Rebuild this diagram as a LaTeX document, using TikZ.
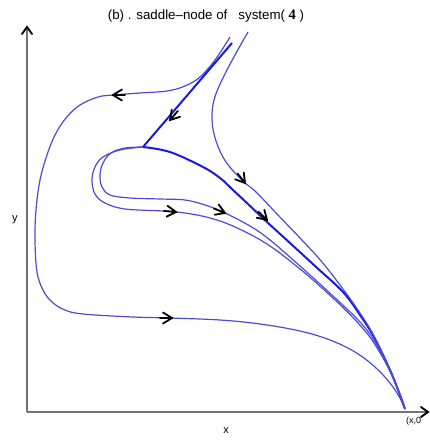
\documentclass[tikz,border=0pt]{standalone}
\usepackage{fontspec}
\setmainfont{Liberation Sans}
\newfontfamily\serifnum{Liberation Serif}
\definecolor{traj}{RGB}{75,75,215}
\definecolor{sep}{RGB}{25,25,225}
\definecolor{axisgray}{RGB}{115,115,115}
\tikzset{
  trajline/.style={draw=traj, line width=1.2pt, line join=round},
  sepline/.style={draw=sep, line width=2pt, line join=round},
  axisline/.style={draw=axisgray, line width=1.8pt},
  chev/.pic={\draw[black, line width=1.8pt, line cap=round, line join=miter]
      (-9,5.5) -- (0,0) -- (-9,-5.5) (-12,0) -- (0,0);},
  axhead/.pic={\draw[black, line width=1.9pt, line cap=round, line join=miter]
      (-7,5) -- (0,0) -- (-7,-5);},
  lbl/.style={font=\fontsize{11}{13}\selectfont, inner sep=0pt}
}
\begin{document}
\begin{tikzpicture}[x=1pt,y=-1pt]
\useasboundingbox (0,0) rectangle (430,440);
% axes
\coordinate (O) at (27,412);
\coordinate (Ytop) at (27,27);
\coordinate (Xend) at (428,412);
\draw[axisline] (O) -- (Ytop);
\draw[axisline] (O) -- (Xend);
\pic[rotate=90] at (Ytop) {axhead};
\pic at (Xend) {axhead};
\node[lbl] (ylab) at (15,220) {y};
\node[lbl] (xlab) at (226,431) {x};
\node[lbl, font=\fontsize{9}{10}\selectfont, anchor=west] (pt) at (406,421) {(x,0};
% title
\node[lbl, font=\fontsize{13.3}{15}\selectfont] (title) at (206,16)
  {(b) . saddle\textendash node of \ \ system( {\serifnum\bfseries\fontsize{14.5}{15}\selectfont 4} )};
% saddle-node point and sink
\coordinate (S) at (143,147);
\coordinate (E) at (405,409);
% outer trajectory A
\draw[trajline] plot[smooth, tension=0.6] coordinates {
 (230,37) (215,60) (200,77) (185,86) (167,91) (140,93) (113,95) (98,97)
 (80,105) (66,118) (55,135) (47,155) (40,180) (36,210) (35,240) (37,272)
 (43,290) (52,302) (65,310) (83,314) (133,317) (170,318) (220,320)
 (260,324) (300,331) (330,340) (355,352) (375,367) (390,383) (400,398) (405,409)};
% separatrix (bold)
\draw[sepline] (232,43) -- (S);
\draw[sepline] plot[smooth, tension=0.6] coordinates {
 (143,147) (170,152) (203,167) (220,178) (233,190) (248,204) (267,222)
 (290,243) (315,266) (343,292) (360,315) (374,337) (390,370) (400,395) (405,409)};
% trajectory C
\draw[trajline] plot[smooth, tension=0.6] coordinates {
 (248,32) (235,55) (222,80) (214,100) (212,120) (216,141) (226,162)
 (243,181) (256,192) (277,214) (300,238) (322,262) (343,289) (360,313)
 (374,336) (390,370) (400,395) (405,409)};
% inner loop
\draw[trajline] plot[smooth, tension=0.6] coordinates {
 (143,147) (125,148) (111,153) (103,163) (100,175) (102,187) (110,195)
 (130,198) (160,199) (185,200) (205,205) (223,212) (250,226) (270,240)
 (300,266) (333,296) (360,322) (375,342) (390,371) (400,395) (405,409)};
% outer loop
\draw[trajline] plot[smooth, tension=0.6] coordinates {
 (143,147) (120,150) (103,157) (95,167) (92,180) (95,194) (105,203)
 (125,209) (163,211) (185,213) (210,218) (235,227) (267,244) (300,269)
 (333,298) (358,323) (374,343) (390,371) (400,395) (405,409)};
% direction arrows
\pic[rotate=180] at (113,95) {chev};
\pic[rotate=0] at (172,318) {chev};
\pic[rotate=229] at (170,120) {chev};
\pic[rotate=-44] at (267,220) {chev};
\pic[rotate=-52] at (245,183) {chev};
\pic[rotate=-5] at (176,212) {chev};
\pic[rotate=-22] at (225,213) {chev};
\end{tikzpicture}
\end{document}
